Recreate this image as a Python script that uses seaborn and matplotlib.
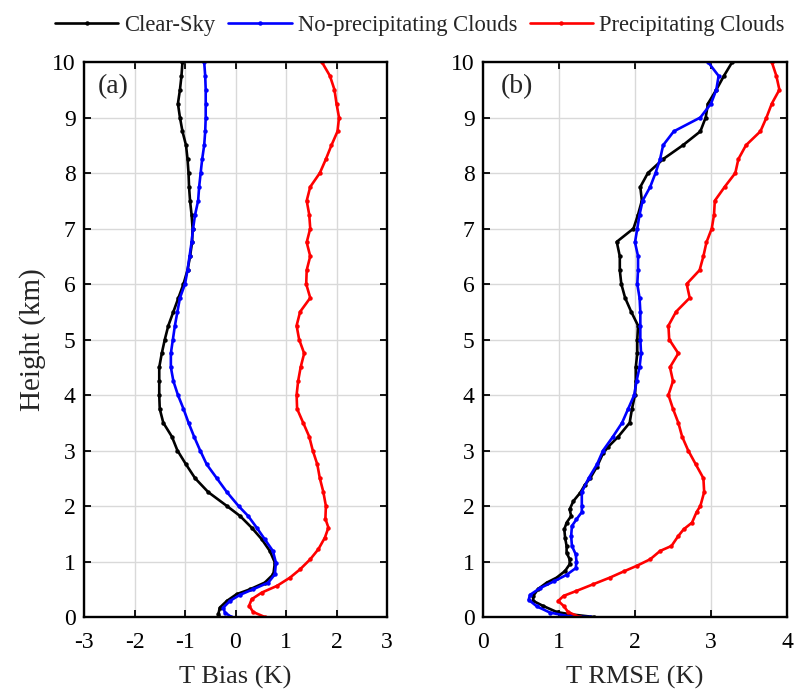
import numpy as np
import pandas as pd
import matplotlib
matplotlib.use("Agg")
import matplotlib.pyplot as plt
import seaborn as sns

series_names = ["Clear-Sky", "No-precipitating Clouds", "Precipitating Clouds"]
series_colors = ["#000000", "#0000ff", "#ff0000"]

# ---- Panel (a): T Bias (K) ----
bias_clear_h = [10, 9.75, 9.5, 9.25, 9, 8.75, 8.5, 8.25, 8, 7.75, 7.5, 7.25, 7, 6.75, 6.5, 6.25, 6,
                5.75, 5.5, 5.25, 5.0, 4.75, 4.5, 4.25, 4.0, 3.75, 3.5, 3.25, 3.0, 2.75, 2.5, 2.25, 2.0,
                1.82, 1.61, 1.40, 1.19, 0.98, 0.77, 0.62, 0.50, 0.41, 0.29, 0.17, 0.05, 0.0]
bias_clear_v = [-1.05, -1.07, -1.10, -1.14, -1.10, -1.05, -0.98, -0.95, -0.93, -0.92, -0.90, -0.87,
                -0.85, -0.86, -0.90, -0.95, -1.03, -1.13, -1.23, -1.33, -1.40, -1.46, -1.51, -1.51,
                -1.51, -1.50, -1.43, -1.26, -1.15, -0.98, -0.80, -0.54, -0.17, 0.09, 0.32, 0.52, 0.68,
                0.78, 0.75, 0.58, 0.29, 0.02, -0.17, -0.31, -0.34, -0.32]

bias_noprec_h = [10, 9.75, 9.5, 9.25, 9, 8.75, 8.5, 8.25, 8, 7.75, 7.5, 7.25, 7, 6.75, 6.5, 6.25, 6,
                 5.75, 5.5, 5.25, 5.0, 4.75, 4.5, 4.25, 4.0, 3.75, 3.5, 3.25, 3.0, 2.75, 2.5, 2.25, 2.0,
                 1.82, 1.61, 1.40, 1.19, 0.98, 0.77, 0.62, 0.50, 0.40, 0.29, 0.17, 0.08, 0.0]
bias_noprec_v = [-0.62, -0.60, -0.59, -0.59, -0.59, -0.60, -0.62, -0.66, -0.69, -0.72, -0.74, -0.80,
                 -0.84, -0.87, -0.91, -0.95, -1.00, -1.10, -1.15, -1.20, -1.24, -1.28, -1.28, -1.23,
                 -1.14, -1.03, -0.93, -0.82, -0.70, -0.57, -0.37, -0.17, 0.06, 0.25, 0.42, 0.58, 0.74,
                 0.80, 0.78, 0.65, 0.35, 0.09, -0.11, -0.24, -0.21, -0.08]

bias_prec_h = [10, 9.75, 9.5, 9.25, 9, 8.75, 8.5, 8.25, 8, 7.75, 7.5, 7.25, 7, 6.75, 6.5, 6.25, 6,
               5.75, 5.5, 5.25, 5.0, 4.75, 4.5, 4.25, 4.0, 3.75, 3.5, 3.25, 3.0, 2.75, 2.5, 2.25, 2.0,
               1.77, 1.61, 1.43, 1.22, 1.04, 0.86, 0.71, 0.56, 0.44, 0.32, 0.20, 0.09, 0.0]
bias_prec_v = [1.71, 1.87, 1.96, 2.00, 2.05, 2.02, 1.90, 1.79, 1.67, 1.48, 1.41, 1.46, 1.48, 1.41,
               1.48, 1.41, 1.40, 1.48, 1.28, 1.21, 1.26, 1.36, 1.29, 1.24, 1.21, 1.22, 1.34, 1.46,
               1.53, 1.62, 1.67, 1.74, 1.79, 1.78, 1.84, 1.77, 1.64, 1.48, 1.28, 1.08, 0.82, 0.52,
               0.32, 0.27, 0.35, 0.58]

# ---- Panel (b): T RMSE (K) ----
rmse_clear_h = [10, 9.75, 9.5, 9.25, 9, 8.75, 8.5, 8.25, 8, 7.75, 7.5, 7.25, 7, 6.76, 6.5, 6.25, 6,
                5.75, 5.5, 5.25, 5.0, 4.75, 4.5, 4.25, 4.0, 3.75, 3.5, 3.25, 3.07, 2.95, 2.71, 2.5,
                2.38, 2.24, 2.09, 1.94, 1.82, 1.70, 1.58, 1.43, 1.28, 1.16, 1.04, 0.95, 0.83, 0.71,
                0.62, 0.51, 0.38, 0.29, 0.20, 0.09, 0.05, 0.0]
rmse_clear_v = [3.28, 3.17, 3.07, 2.96, 2.93, 2.86, 2.63, 2.37, 2.17, 2.07, 2.09, 2.04, 1.98, 1.76,
                1.80, 1.80, 1.82, 1.87, 1.95, 2.04, 2.03, 2.03, 2.01, 2.01, 2.00, 1.96, 1.93, 1.78,
                1.65, 1.58, 1.50, 1.41, 1.34, 1.28, 1.19, 1.14, 1.16, 1.10, 1.07, 1.08, 1.10, 1.10,
                1.14, 1.14, 1.08, 0.97, 0.84, 0.73, 0.66, 0.66, 0.79, 0.97, 1.14, 1.46]

rmse_noprec_h = [10, 9.75, 9.5, 9.25, 9, 8.75, 8.5, 8.25, 8, 7.75, 7.5, 7.25, 7, 6.75, 6.5, 6.25, 6,
                 5.75, 5.5, 5.25, 5.0, 4.75, 4.5, 4.25, 4.0, 3.75, 3.5, 3.25, 3.0, 2.75, 2.5, 2.25,
                 2.0, 1.89, 1.76, 1.64, 1.46, 1.28, 1.13, 1.0, 0.88, 0.76, 0.64, 0.52, 0.40, 0.31,
                 0.19, 0.08, 0.01, 0.0]
rmse_noprec_v = [2.96, 3.10, 3.07, 3.00, 2.86, 2.51, 2.37, 2.33, 2.27, 2.20, 2.10, 2.06, 2.03, 2.00,
                 2.04, 2.04, 2.03, 2.06, 2.07, 2.07, 2.07, 2.08, 2.06, 2.02, 1.99, 1.91, 1.83, 1.71,
                 1.58, 1.50, 1.39, 1.30, 1.30, 1.30, 1.23, 1.17, 1.16, 1.17, 1.22, 1.23, 1.22, 1.10,
                 0.93, 0.75, 0.62, 0.60, 0.71, 0.88, 1.14, 1.41]

rmse_prec_h = [10, 9.75, 9.5, 9.25, 9, 8.75, 8.5, 8.25, 8, 7.75, 7.5, 7.25, 7, 6.75, 6.5, 6.25, 6,
               5.75, 5.5, 5.25, 5.0, 4.75, 4.5, 4.25, 4.0, 3.75, 3.5, 3.25, 3.0, 2.75, 2.5, 2.25,
               2.0, 1.89, 1.70, 1.58, 1.46, 1.28, 1.19, 1.04, 0.92, 0.82, 0.71, 0.59, 0.47, 0.38,
               0.29, 0.20, 0.09, 0.0]
rmse_prec_v = [3.80, 3.86, 3.90, 3.80, 3.73, 3.65, 3.46, 3.36, 3.32, 3.18, 3.05, 3.04, 3.01, 2.94,
               2.90, 2.85, 2.68, 2.72, 2.54, 2.44, 2.45, 2.57, 2.46, 2.50, 2.44, 2.50, 2.57, 2.62,
               2.70, 2.80, 2.90, 2.91, 2.86, 2.81, 2.75, 2.64, 2.57, 2.48, 2.33, 2.20, 2.02, 1.85,
               1.67, 1.45, 1.23, 1.06, 0.99, 1.06, 1.12, 1.27]

height_ticks = list(range(0, 11))
bias_ticks = [-3, -2, -1, 0, 1, 2, 3]
rmse_ticks = [0, 1, 2, 3, 4]


def make_df(hs, vs):
    frames = []
    for name, h, v in zip(series_names, hs, vs):
        frames.append(pd.DataFrame({"height": h, "value": v, "type": name}))
    return pd.concat(frames, ignore_index=True)


df_a = make_df([bias_clear_h, bias_noprec_h, bias_prec_h],
               [bias_clear_v, bias_noprec_v, bias_prec_v])
df_b = make_df([rmse_clear_h, rmse_noprec_h, rmse_prec_h],
               [rmse_clear_v, rmse_noprec_v, rmse_prec_v])

sns.set_theme(style="white")
plt.rcParams["font.family"] = ["Liberation Serif", "DejaVu Serif"]

fig = plt.figure(figsize=(7.95, 6.91), dpi=100)
ax_a = fig.add_axes([84 / 795, 1 - 617 / 691, 303 / 795, 555 / 691])
ax_b = fig.add_axes([483 / 795, 1 - 617 / 691, 304 / 795, 555 / 691])

palette = dict(zip(series_names, series_colors))

for ax, df, xlim, xticks, xlabel, tag, tagx in [
    (ax_a, df_a, (-3, 3), bias_ticks, "T Bias (K)", "(a)", 0.045),
    (ax_b, df_b, (0, 4), rmse_ticks, "T RMSE (K)", "(b)", 0.06),
]:
    sns.lineplot(data=df, x="value", y="height", hue="type", palette=palette,
                 orient="y", estimator=None, sort=True, marker="o", markersize=3.2,
                 markeredgewidth=0, linewidth=1.9, ax=ax, legend=(ax is ax_a))
    ax.set_xlim(*xlim)
    ax.set_ylim(0, 10)
    ax.set_xticks(xticks)
    ax.set_xticklabels([str(t) for t in xticks])
    ax.set_yticks(height_ticks)
    ax.grid(True, color="#d9d9d9", linewidth=1.0)
    ax.set_axisbelow(True)
    for sp in ax.spines.values():
        sp.set_visible(True)
        sp.set_color("black")
        sp.set_linewidth(1.7)
    ax.tick_params(direction="in", length=5, width=1.3, top=True, right=True,
                   bottom=True, left=True, labelsize=17, colors="black")
    ax.tick_params(axis="x", pad=11)
    ax.tick_params(axis="y", pad=6)
    ax.set_xlabel(xlabel, fontsize=19, labelpad=9)
    ax.set_ylabel("")
    ax.text(tagx, 0.955, tag, transform=ax.transAxes, fontsize=20, va="center", ha="left")

ax_a.set_ylabel("Height (km)", fontsize=21, labelpad=4)

handles, labels = ax_a.get_legend_handles_labels()
ax_a.get_legend().remove()
fig.legend(handles, labels, loc="center", bbox_to_anchor=(0.528, 0.963), ncol=3,
           frameon=False, fontsize=16.3, handlelength=2.8, handletextpad=0.27,
           columnspacing=0.55)

fig.savefig("out.png", dpi=100)
